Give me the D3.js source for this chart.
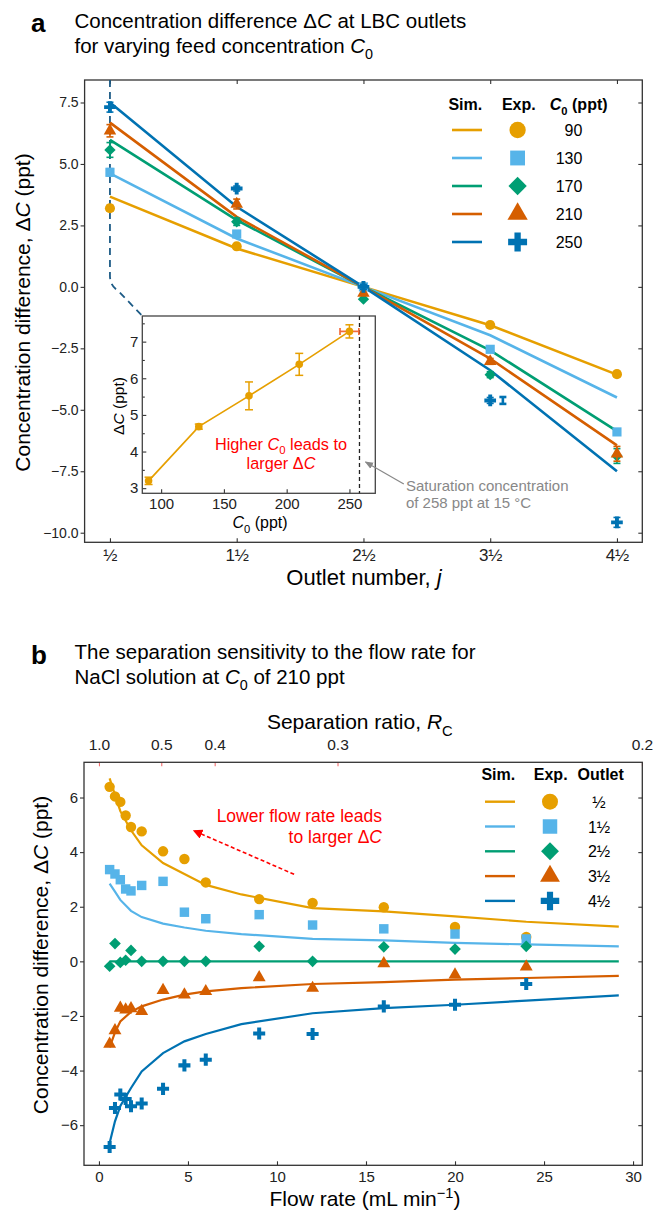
<!DOCTYPE html>
<html>
<head>
<meta charset="utf-8">
<script src="https://cdn.jsdelivr.net/npm/d3@7"></script>
<style>
  body { margin: 0; background: #fff; }
  svg { display: block; font-family: 'Liberation Sans', Arial, Helvetica, sans-serif; }
</style>
</head>
<body>
<script>
// ---------- data : panel a ----------
var outlets = [0.5, 1.5, 2.5, 3.5, 4.5];
var outletLabels = ["\u00bd", "1\u00bd", "2\u00bd", "3\u00bd", "4\u00bd"];
var feedC0 = [90, 130, 170, 210, 250];
var sim90 = [3.67, 1.56, 0, -1.56, -3.57];
var sim130 = [4.62, 1.97, 0, -1.97, -4.5];
var sim170 = [5.98, 2.72, 0, -2.58, -5.87];
var sim210 = [6.68, 2.85, 0, -2.92, -6.45];
var sim250 = [7.5, 3.26, 0, -3.39, -7.5];
var exp90 = [3.2, 1.65, 0, -1.55, -3.55];
var exp130 = [4.66, 2.15, 0, -2.54, -5.9];
var exp170 = [5.57, 2.65, -0.5, -3.57, -6.88];
var exp210 = [6.35, 3.37, -0.25, -3.03, -6.79];
var exp250 = [7.31, 4.0, 0, -4.62, -9.58];
var err90 = [0.12, 0.1, 0, 0.1, 0.1];
var err130 = [0.15, 0.12, 0, 0.12, 0.12];
var err170 = [0.3, 0.15, 0, 0.12, 0.3];
var err210 = [0.25, 0.2, 0, 0.12, 0.3];
var err250 = [0.2, 0.1, 0.1, 0.12, 0.2];
// stray error bar next to the 250 ppt point at outlet 3 1/2
var strayErrJ = 3.6, strayErrV = -4.62, strayErrE = 0.14;

// inset : dC at outlet 1/2 vs C0
var insetC0 = [90, 130, 170, 210, 250];
var insetDC = [3.2, 4.68, 5.52, 6.38, 7.28];
var insetErr = [0.1, 0.07, 0.38, 0.3, 0.18];
var insetHErr = 7.5;        // horizontal error on the last point
var saturationC0 = 258;

// ---------- data : panel b ----------
var outletNames = ["\u00bd", "1\u00bd", "2\u00bd", "3\u00bd", "4\u00bd"];
var simFlow = [0.6, 0.9, 1.2, 1.8, 2.4, 3.6, 4.8, 6, 8, 12, 16, 20, 24, 29.2];
var simO1 = [6.7, 6.1, 5.5, 4.8, 4.25, 3.6, 3.2, 2.8, 2.45, 1.95, 1.83, 1.65, 1.45, 1.27];
var simO2 = [2.85, 2.55, 2.25, 1.85, 1.62, 1.38, 1.24, 1.12, 1.0, 0.82, 0.77, 0.68, 0.62, 0.55];
var simO3 = [0, 0, 0, 0, 0, 0, 0, 0, 0, 0, 0, 0, 0, 0];
var simO4 = [-3.15, -2.6, -2.2, -1.85, -1.65, -1.4, -1.22, -1.1, -0.98, -0.83, -0.76, -0.67, -0.61, -0.53];
var simO5 = [-6.65, -5.86, -5.3, -4.64, -4.03, -3.36, -2.93, -2.66, -2.3, -1.9, -1.71, -1.59, -1.44, -1.25];
var expFlow = [0.6, 0.9, 1.2, 1.5, 1.8, 2.4, 3.6, 4.8, 6, 9, 12, 16, 20, 24];
var expO1 = [6.39, 6.04, 5.84, 5.34, 4.92, 4.76, 4.03, 3.75, 2.89, 2.28, 2.14, 1.98, 1.26, 0.89];
var expO2 = [3.36, 3.2, 2.99, 2.65, 2.58, 2.78, 2.93, 1.8, 1.56, 1.71, 1.33, 1.19, 1.0, 0.82];
var expO3 = [-0.18, 0.65, -0.04, 0.04, 0.4, 0, 0, 0, 0, 0.55, 0, 0.53, 0.45, 0.55];
var expO4 = [-3.03, -2.53, -1.71, -1.77, -1.73, -1.83, -1.06, -1.22, -1.1, -0.59, -0.98, -0.08, -0.49, -0.2];
var expO5 = [-6.8, -5.37, -4.88, -5.04, -5.31, -5.21, -4.67, -3.81, -3.6, -2.64, -2.66, -1.65, -1.59, -0.83];
// separation ratio axis (top) : labels and the flow rate they sit at
var rcLabels = ["1.0", "0.5", "0.4", "0.3", "0.2"];
var rcFlow = [0, 3.5, 6.5, 13.4, 30.5];

var colors = ["#E69F00", "#56B4E9", "#009E73", "#D55E00", "#0072B2"];

// ---------- helpers ----------
var W = 656, H = 1212;
var svg = d3.select("body").append("svg").attr("width", W).attr("height", H);

// text made of parts: [string, "i" | "sub" | "sup" | ""]
function rich(g, x, y, parts, size, anchor, extra) {
  var t = g.append("text").attr("x", x).attr("y", y)
    .attr("font-size", size).attr("text-anchor", anchor || "start");
  var shift = 0;
  parts.forEach(function (p) {
    var s = t.append("tspan").text(p[0]);
    var want = p[1] === "sub" ? 0.3 * size : (p[1] === "sup" ? -0.4 * size : 0);
    if (want !== shift) { s.attr("dy", want - shift); shift = want; }
    if (p[1] === "i") s.attr("font-style", "italic");
    if (p[1] === "sub" || p[1] === "sup") s.attr("font-size", size * 0.7);
  });
  if (extra) extra(t);
  return t;
}

function marker(g, i, x, y, size) {
  var type = [d3.symbolCircle, d3.symbolSquare, d3.symbolSquare, d3.symbolTriangle, d3.symbolCross][i];
  var k = [1, 1.05, 0.8, 0.85, 0.95][i];
  g.append("path")
    .attr("d", d3.symbol(type, size * k)())
    .attr("transform", "translate(" + x + "," + y + ")" + (i === 2 ? " rotate(45)" : ""))
    .attr("fill", colors[i]);
}

function styleAxis(g, fs) {
  g.selectAll(".domain").remove();
  g.selectAll(".tick line").attr("stroke", "#333").attr("stroke-width", 1.1);
  g.selectAll(".tick text").attr("font-size", fs).attr("fill", "#222")
    .attr("font-family", "'Liberation Sans', Arial, sans-serif");
}

// ================= PANEL A =================
var A = { l: 84.6, r: 642.3, t: 80, b: 542.3 };
var xa = d3.scaleLinear([0.3, 4.7], [A.l, A.r]);
var ya = d3.scaleLinear([-10.39, 8.415], [A.b, A.t]);

svg.append("text").attr("x", 31).attr("y", 32).attr("font-size", 26)
  .attr("font-weight", "bold").text("a");
rich(svg, 74.5, 28.3, [["Concentration difference \u0394", ""], ["C", "i"], [" at LBC outlets", ""]], 20.5);
rich(svg, 74.5, 53.3, [["for varying feed concentration ", ""], ["C", "i"], ["0", "sub"]], 20.5);

var ga = svg.append("g");
ga.append("g").attr("transform", "translate(" + A.l + ",0)")
  .call(d3.axisLeft(ya).tickValues([-10, -7.5, -5, -2.5, 0, 2.5, 5, 7.5]).tickFormat(d3.format(".1f"))
    .tickSize(4).tickPadding(2).tickSizeOuter(0))
  .call(styleAxis, 14);
ga.append("g").attr("transform", "translate(" + A.r + ",0)")
  .call(d3.axisRight(ya).tickValues([-10, -7.5, -5, -2.5, 0, 2.5, 5, 7.5]).tickFormat("")
    .tickSize(-4).tickSizeOuter(0))
  .call(styleAxis, 14);
ga.append("g").attr("transform", "translate(0," + A.b + ")")
  .call(d3.axisBottom(xa).tickValues(outlets).tickFormat(function (d, i) { return outletLabels[i]; })
    .tickSize(-4).tickPadding(7).tickSizeOuter(0))
  .call(styleAxis, 17);
ga.append("g").attr("transform", "translate(0," + A.t + ")")
  .call(d3.axisTop(xa).tickValues(outlets).tickFormat("").tickSize(-4).tickSizeOuter(0))
  .call(styleAxis, 17);
ga.append("rect").attr("x", A.l).attr("y", A.t).attr("width", A.r - A.l).attr("height", A.b - A.t)
  .attr("fill", "none").attr("stroke", "#333").attr("stroke-width", 1.3);

rich(ga, 364, 585, [["Outlet number, ", ""], ["j", "i"]], 22, "middle");
rich(ga, 0, 0, [["Concentration difference, \u0394", ""], ["C", "i"], [" (ppt)", ""]], 21, "middle",
  function (t) { t.attr("transform", "translate(30,312.5) rotate(-90)"); });

// dashed connector from outlet 1/2 down to the inset
var I = { l: 142.3, r: 375.3, t: 316, b: 493.3 };
ga.append("path")
  .attr("d", "M" + xa(0.5) + "," + A.t + "L" + xa(0.5) + "," + ya(0.45) +
    "Q" + xa(0.5) + "," + ya(0.05) + " " + (xa(0.5) + 8) + "," + ya(-0.15) + "L" + I.l + "," + I.t)
  .attr("fill", "none").attr("stroke", "#1d5b86").attr("stroke-width", 1.8)
  .attr("stroke-dasharray", "7,5");

var simA = [sim90, sim130, sim170, sim210, sim250];
var expA = [exp90, exp130, exp170, exp210, exp250];
var errA = [err90, err130, err170, err210, err250];

var lineA = d3.line().x(function (d, i) { return xa(outlets[i]); }).y(function (d) { return ya(d); });
simA.forEach(function (s, k) {
  ga.append("path").attr("d", lineA(s)).attr("fill", "none")
    .attr("stroke", colors[k]).attr("stroke-width", 2.6);
});
function errBar(g, x, y0, y1, col, w, cap) {
  var c = cap || 3.5;
  g.append("line").attr("x1", x).attr("x2", x).attr("y1", y0).attr("y2", y1)
    .attr("stroke", col).attr("stroke-width", w || 1.6);
  [y0, y1].forEach(function (y) {
    g.append("line").attr("x1", x - c).attr("x2", x + c).attr("y1", y).attr("y2", y)
      .attr("stroke", col).attr("stroke-width", w || 1.6);
  });
}
expA.forEach(function (s, k) {
  s.forEach(function (v, i) {
    var e = errA[k][i];
    if (e > 0) errBar(ga, xa(outlets[i]), ya(v - e), ya(v + e), colors[k]);
    marker(ga, k, xa(outlets[i]), ya(v), 80);
  });
});
errBar(ga, xa(strayErrJ), ya(strayErrV - strayErrE), ya(strayErrV + strayErrE), colors[4], 2.6);

// legend a
var lgA = ga.append("g");
[["Sim.", 465.3], ["Exp.", 518.8]].forEach(function (h) {
  lgA.append("text").attr("x", h[1]).attr("y", 110).attr("text-anchor", "middle")
    .attr("font-size", 16).attr("font-weight", "bold").text(h[0]);
});
rich(lgA, 578.7, 110, [["C", "i"], ["0", "sub"], [" (ppt)", ""]], 16, "middle",
  function (t) { t.attr("font-weight", "bold"); });
feedC0.forEach(function (c, k) {
  var y = 130 + k * 28;
  lgA.append("line").attr("x1", 452).attr("x2", 482).attr("y1", y).attr("y2", y)
    .attr("stroke", colors[k]).attr("stroke-width", 2.6);
  marker(lgA, k, 517.6, y, 210);
  lgA.append("text").attr("x", 582.4).attr("y", y + 6).attr("text-anchor", "end")
    .attr("font-size", 16).text(c);
});

// inset
var xi = d3.scaleLinear([85, 270.6], [I.l, I.r]);
var yi = d3.scaleLinear([2.86, 7.7], [I.b, I.t]);
var gi = svg.append("g");
gi.append("rect").attr("x", I.l).attr("y", I.t).attr("width", I.r - I.l).attr("height", I.b - I.t)
  .attr("fill", "#fff");
gi.append("g").attr("transform", "translate(" + I.l + ",0)")
  .call(d3.axisLeft(yi).tickValues([3, 4, 5, 6, 7]).tickFormat(d3.format("d"))
    .tickSize(-4).tickPadding(4).tickSizeOuter(0))
  .call(styleAxis, 15);
gi.append("g").attr("transform", "translate(" + I.l + ",0)")
  .call(d3.axisLeft(yi).tickValues([3.5, 4.5, 5.5, 6.5, 7.5]).tickFormat("")
    .tickSize(-2.5).tickSizeOuter(0))
  .call(styleAxis, 15);
gi.append("g").attr("transform", "translate(0," + I.b + ")")
  .call(d3.axisBottom(xi).tickValues([100, 150, 200, 250]).tickFormat(d3.format("d"))
    .tickSize(-4).tickPadding(5).tickSizeOuter(0))
  .call(styleAxis, 15);
gi.append("rect").attr("x", I.l).attr("y", I.t).attr("width", I.r - I.l).attr("height", I.b - I.t)
  .attr("fill", "none").attr("stroke", "#444").attr("stroke-width", 1.3);
gi.append("line").attr("x1", xi(saturationC0)).attr("x2", xi(saturationC0))
  .attr("y1", I.t).attr("y2", I.b).attr("stroke", "#222").attr("stroke-width", 1.3)
  .attr("stroke-dasharray", "4,3");
gi.append("path").attr("d", d3.line().x(function (d, i) { return xi(insetC0[i]); })
    .y(function (d) { return yi(d); })(insetDC))
  .attr("fill", "none").attr("stroke", colors[0]).attr("stroke-width", 1.7);
insetDC.forEach(function (v, i) {
  errBar(gi, xi(insetC0[i]), yi(v - insetErr[i]), yi(v + insetErr[i]), colors[0], 1.5, 4);
});
var lastX = insetC0[insetC0.length - 1], lastY = insetDC[insetDC.length - 1];
gi.append("line").attr("x1", xi(lastX - insetHErr)).attr("x2", xi(lastX + insetHErr))
  .attr("y1", yi(lastY)).attr("y2", yi(lastY)).attr("stroke", "#f26b3a").attr("stroke-width", 1.7);
[lastX - insetHErr, lastX + insetHErr].forEach(function (c) {
  gi.append("line").attr("x1", xi(c)).attr("x2", xi(c)).attr("y1", yi(lastY) - 3.5).attr("y2", yi(lastY) + 3.5)
    .attr("stroke", "#f26b3a").attr("stroke-width", 1.7);
});
insetDC.forEach(function (v, i) {
  gi.append("circle").attr("cx", xi(insetC0[i])).attr("cy", yi(v)).attr("r", 3.8).attr("fill", colors[0]);
});
rich(gi, 0, 0, [["\u0394", ""], ["C", "i"], [" (ppt)", ""]], 15.5, "middle",
  function (t) { t.attr("transform", "translate(123.5,406) rotate(-90)"); });
rich(gi, 260, 528, [["C", "i"], ["0", "sub"], [" (ppt)", ""]], 16, "middle");
rich(gi, 281, 449.5, [["Higher ", ""], ["C", "i"], ["0", "sub"], [" leads to", ""]], 16.3, "middle",
  function (t) { t.attr("fill", "#f00"); });
rich(gi, 281, 469.3, [["larger \u0394", ""], ["C", "i"]], 16.3, "middle",
  function (t) { t.attr("fill", "#f00"); });

// saturation annotation
var defs = svg.append("defs");
defs.append("marker").attr("id", "grayHead").attr("viewBox", "0 0 10 10").attr("refX", 9).attr("refY", 5)
  .attr("markerWidth", 7).attr("markerHeight", 7).attr("orient", "auto")
  .append("path").attr("d", "M0,1L10,5L0,9z").attr("fill", "#888");
defs.append("marker").attr("id", "redHead").attr("viewBox", "0 0 10 10").attr("refX", 9).attr("refY", 5)
  .attr("markerWidth", 6).attr("markerHeight", 6).attr("orient", "auto")
  .append("path").attr("d", "M0,0L10,5L0,10z").attr("fill", "#f00");
svg.append("line").attr("x1", 403.8).attr("y1", 484).attr("x2", xi(saturationC0) + 6).attr("y2", 462)
  .attr("stroke", "#888").attr("stroke-width", 1.2).attr("marker-end", "url(#grayHead)");
svg.append("text").attr("x", 405.9).attr("y", 490.7).attr("font-size", 15).attr("fill", "#888")
  .text("Saturation concentration");
svg.append("text").attr("x", 405.9).attr("y", 508.3).attr("font-size", 15).attr("fill", "#888")
  .text("of 258 ppt at 15 \u00b0C");

// ================= PANEL B =================
var B = { l: 84, r: 642.3, t: 762.3, b: 1165.3 };
var xb = d3.scaleLinear([-0.84, 30.52], [B.l, B.r]);
var yb = d3.scaleLinear([-7.47, 7.29], [B.b, B.t]);

svg.append("text").attr("x", 31).attr("y", 664.3).attr("font-size", 26)
  .attr("font-weight", "bold").text("b");
svg.append("text").attr("x", 74.5).attr("y", 659.3).attr("font-size", 20.5)
  .text("The separation sensitivity to the flow rate for");
rich(svg, 74.5, 684.3, [["NaCl solution at ", ""], ["C", "i"], ["0", "sub"], [" of 210 ppt", ""]], 20.5);

var gb = svg.append("g");
gb.append("g").attr("transform", "translate(" + B.l + ",0)")
  .call(d3.axisLeft(yb).tickValues([-6, -4, -2, 0, 2, 4, 6]).tickFormat(d3.format("d"))
    .tickSize(4).tickPadding(2).tickSizeOuter(0))
  .call(styleAxis, 15);
gb.append("g").attr("transform", "translate(" + B.r + ",0)")
  .call(d3.axisRight(yb).tickValues([-6, -4, -2, 0, 2, 4, 6]).tickFormat("")
    .tickSize(-4).tickSizeOuter(0))
  .call(styleAxis, 15);
gb.append("g").attr("transform", "translate(0," + B.b + ")")
  .call(d3.axisBottom(xb).tickValues([0, 5, 10, 15, 20, 25, 30]).tickFormat(d3.format("d"))
    .tickSize(-4).tickPadding(6).tickSizeOuter(0))
  .call(styleAxis, 15);
var topAx = gb.append("g").attr("transform", "translate(0," + B.t + ")")
  .call(d3.axisTop(xb).tickValues(rcFlow).tickFormat(function (d, i) { return rcLabels[i]; })
    .tickSize(-4).tickPadding(12).tickSizeOuter(0))
  .call(styleAxis, 15.5);
topAx.selectAll(".tick line").attr("stroke", "#f26d6d");
gb.append("rect").attr("x", B.l).attr("y", B.t).attr("width", B.r - B.l).attr("height", B.b - B.t)
  .attr("fill", "none").attr("stroke", "#333").attr("stroke-width", 1.3);

rich(gb, 359.8, 729.3, [["Separation ratio, ", ""], ["R", "i"], ["C", "sub"]], 21, "middle");
rich(gb, 365, 1206, [["Flow rate (mL min", ""], ["\u22121", "sup"], [")", ""]], 21, "middle");
rich(gb, 0, 0, [["Concentration difference, \u0394", ""], ["C", "i"], [" (ppt)", ""]], 21, "middle",
  function (t) { t.attr("transform", "translate(48,955) rotate(-90)"); });

var simB = [simO1, simO2, simO3, simO4, simO5];
var expB = [expO1, expO2, expO3, expO4, expO5];
var lineB = d3.line().x(function (d, i) { return xb(simFlow[i]); }).y(function (d) { return yb(d); });
simB.forEach(function (s, k) {
  gb.append("path").attr("d", lineB(s)).attr("fill", "none")
    .attr("stroke", colors[k]).attr("stroke-width", 2.2);
});
expB.forEach(function (s, k) {
  s.forEach(function (v, i) { marker(gb, k, xb(expFlow[i]), yb(v), 85); });
});

// red annotation b
rich(gb, 382, 821.7, [["Lower flow rate leads", ""]], 17.5, "end", function (t) { t.attr("fill", "#f00"); });
rich(gb, 382, 843.3, [["to larger \u0394", ""], ["C", "i"]], 17.5, "end", function (t) { t.attr("fill", "#f00"); });
gb.append("line").attr("x1", 294.1).attr("y1", 874.3).attr("x2", 193.7).attr("y2", 830.7)
  .attr("stroke", "#f00").attr("stroke-width", 1.6).attr("stroke-dasharray", "4,2.5")
  .attr("marker-end", "url(#redHead)");

// legend b
var lgB = gb.append("g");
[["Sim.", 498.3], ["Exp.", 550.7], ["Outlet", 600.7]].forEach(function (h) {
  lgB.append("text").attr("x", h[1]).attr("y", 780).attr("text-anchor", "middle")
    .attr("font-size", 16).attr("font-weight", "bold").text(h[0]);
});
outletNames.forEach(function (n, k) {
  var y = 801.7 + k * 24.8;
  lgB.append("line").attr("x1", 485).attr("x2", 515).attr("y1", y).attr("y2", y)
    .attr("stroke", colors[k]).attr("stroke-width", 2.4);
  marker(lgB, k, 550, y, 200);
  lgB.append("text").attr("x", 599).attr("y", y + 6).attr("text-anchor", "middle")
    .attr("font-size", 16).text(n);
});
</script>
</body>
</html>
